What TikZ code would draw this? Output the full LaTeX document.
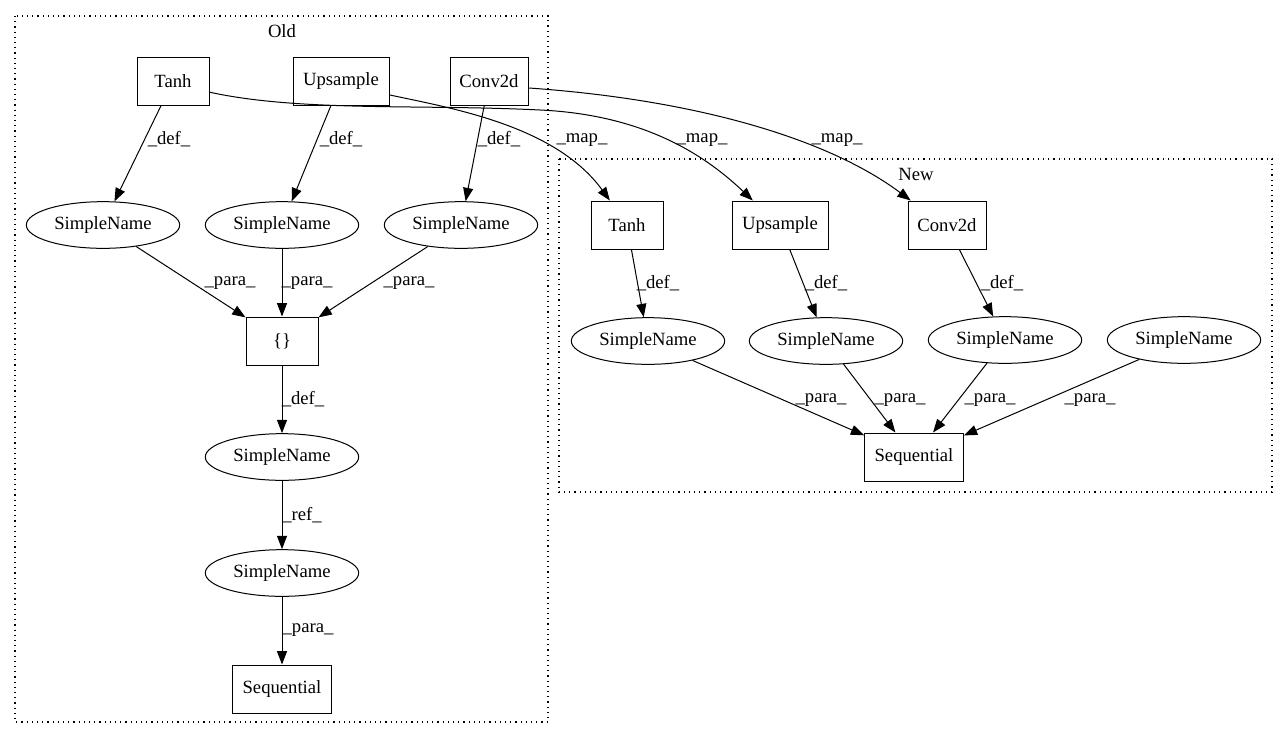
\documentclass[tikz,border=0pt]{standalone}
\usepackage{fontspec}
\setmainfont{Liberation Serif}
\usepackage{tikz}
\usetikzlibrary{calc,arrows.meta,shapes.geometric}

\tikzset{
	box/.style={draw, rectangle, minimum height=36pt, inner sep=0pt, line width=0.75pt},
	sname/.style={draw, ellipse, minimum width=115pt, minimum height=35pt, inner sep=0pt, line width=0.75pt},
	arr/.style={-{Triangle[length=10pt,width=7.5pt]}, line width=0.75pt},
	elbl/.style={inner sep=0pt},
	cluster/.style={draw, dash pattern=on 0.9pt off 3pt, line width=0.9pt}
}

\begin{document}
\begin{tikzpicture}[x=0.75pt,y=-0.75pt,font=\fontsize{14pt}{16pt}\selectfont]
				\useasboundingbox (0,0) rectangle (1288,740);
				%clusters
				\draw[cluster] (15,16) rectangle (548,722);
				\node (old) at (282,31) {Old};
				\draw[cluster] (559,159) rectangle (1272,492);
				\node (new) at (916,174) {New};
				
				%old
				\node[box, minimum width=54pt] (oTanh) at (173,81) {Tanh};
				\node[box, minimum width=72pt] (oUps) at (341,81) {Upsample};
				\node[box, minimum width=58.5pt] (oConv) at (489,81) {Conv2d};
				\node[sname] (oSN1) at (103,225) {SimpleName};
				\node[sname] (oSN2) at (282,225) {SimpleName};
				\node[sname] (oSN3) at (461,225) {SimpleName};
				\node[box, minimum width=54pt] (oSet) at (282,341) {\{\}};
				\node[sname] (oSN4) at (282,457) {SimpleName};
				\node[sname] (oSN5) at (282,573) {SimpleName};
				\node[box, minimum width=74pt] (oSeq) at (282,689) {Sequential};
				
				\draw[arr] (oTanh) -- (oSN1) node[elbl] at (169,139) {\_def\_};
				\draw[arr] (oUps) -- (oSN2) node[elbl] at (341,139) {\_def\_};
				\draw[arr] (oConv) -- (oSN3) node[elbl] at (499,139) {\_def\_};
				\draw[arr] (oSN1) -- (oSet) node[elbl] at (230,283) {\_para\_};
				\draw[arr] (oSN2) -- (oSet) node[elbl] at (307,283) {\_para\_};
				\draw[arr] (oSN3) -- (oSet) node[elbl] at (409,283) {\_para\_};
				\draw[arr] (oSet) -- (oSN4) node[elbl] at (303,399) {\_def\_};
				\draw[arr] (oSN4) -- (oSN5) node[elbl] at (302,515) {\_ref\_};
				\draw[arr] (oSN5) -- (oSeq) node[elbl] at (308,630) {\_para\_};
				
				%new
				\node[box, minimum width=54pt] (nTanh) at (627,225) {Tanh};
				\node[box, minimum width=72pt] (nUps) at (780,225) {Upsample};
				\node[box, minimum width=58.5pt] (nConv) at (947,225) {Conv2d};
				\node[sname] (nSN1) at (648,341) {SimpleName};
				\node[sname] (nSN2) at (826,341) {SimpleName};
				\node[sname] (nSN3) at (1005,340) {SimpleName};
				\node[sname] (nSN4) at (1184,340) {SimpleName};
				\node[box, minimum width=74pt] (nSeq) at (914,457) {Sequential};
				
				\draw[arr] (nTanh) -- (nSN1) node[elbl] at (658,283) {\_def\_};
				\draw[arr] (nUps) -- (nSN2) node[elbl] at (826,283) {\_def\_};
				\draw[arr] (nConv) -- (nSN3) node[elbl] at (1002,283) {\_def\_};
				\draw[arr] (nSN1) -- (nSeq) node[elbl] at (821,400) {\_para\_};
				\draw[arr] (nSN2) -- (nSeq) node[elbl] at (900,400) {\_para\_};
				\draw[arr] (nSN3) -- (nSeq) node[elbl] at (990,400) {\_para\_};
				\draw[arr] (nSN4) -- (nSeq) node[elbl] at (1090,400) {\_para\_};
				
				%map
				\draw[arr] (oUps.-16) .. controls (450,108) and (555,125) .. (nTanh.125) node[elbl] at (582,140) {\_map\_};
				\draw[arr] (oTanh.-17) .. controls (300,112) and (420,104) .. (540,110) .. controls (650,115) and (710,160) .. (nUps.138) node[elbl] at (702,140) {\_map\_};
				\draw[arr] (oConv.-10) .. controls (700,100) and (830,140) .. (nConv.146) node[elbl] at (837,140) {\_map\_};
				
			\end{tikzpicture}
\end{document}
